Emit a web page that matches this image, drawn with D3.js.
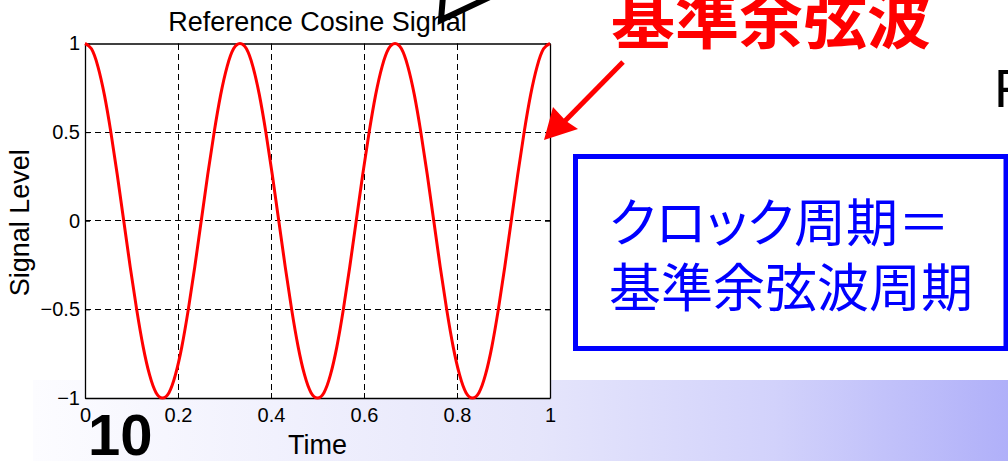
<!DOCTYPE html>
<html>
<head>
<meta charset="utf-8">
<script src="https://cdn.jsdelivr.net/npm/d3@7"></script>
<style>
  html, body { margin: 0; padding: 0; background: #ffffff; }
  svg { display: block; }
</style>
</head>
<body>
<svg id="chart" width="1008" height="461"></svg>
<script>
// ---- data ----
const times = [0, 0.0139, 0.0278, 0.0417, 0.0556, 0.0694, 0.0833, 0.0972, 0.1111, 0.125, 0.1389, 0.1528,
  0.1667, 0.1806, 0.1944, 0.2083, 0.2222, 0.2361, 0.25, 0.2639, 0.2778, 0.2917, 0.3056, 0.3194,
  0.3333, 0.3472, 0.3611, 0.375, 0.3889, 0.4028, 0.4167, 0.4306, 0.4444, 0.4583, 0.4722, 0.4861,
  0.5, 0.5139, 0.5278, 0.5417, 0.5556, 0.5694, 0.5833, 0.5972, 0.6111, 0.625, 0.6389, 0.6528,
  0.6667, 0.6806, 0.6944, 0.7083, 0.7222, 0.7361, 0.75, 0.7639, 0.7778, 0.7917, 0.8056, 0.8194,
  0.8333, 0.8472, 0.8611, 0.875, 0.8889, 0.9028, 0.9167, 0.9306, 0.9444, 0.9583, 0.9722, 0.9861, 1];
const signalLevel = [
  1, 0.97, 0.87, 0.71, 0.5, 0.26, 0, -0.26, -0.5, -0.71, -0.87, -0.97,
  -1, -0.97, -0.87, -0.71, -0.5, -0.26, 0, 0.26, 0.5, 0.71, 0.87, 0.97,
  1, 0.97, 0.87, 0.71, 0.5, 0.26, 0, -0.26, -0.5, -0.71, -0.87, -0.97,
  -1, -0.97, -0.87, -0.71, -0.5, -0.26, 0, 0.26, 0.5, 0.71, 0.87, 0.97,
  1, 0.97, 0.87, 0.71, 0.5, 0.26, 0, -0.26, -0.5, -0.71, -0.87, -0.97,
  -1, -0.97, -0.87, -0.71, -0.5, -0.26, 0, 0.26, 0.5, 0.71, 0.87, 0.97,
  1];
const xTicks = [0, 0.2, 0.4, 0.6, 0.8, 1];
const xTickLabels = ["0", "0.2", "0.4", "0.6", "0.8", "1"];
const yTicks = [-1, -0.5, 0, 0.5, 1];
const yTickLabels = ["\u22121", "\u22120.5", "0", "0.5", "1"];
const titleText = "Reference Cosine Signal";
const xLabelText = "Time";
const yLabelText = "Signal Level";
const calloutRed = "基準余弦波";
const boxLines = ["クロック周期＝", "基準余弦波周期"];
const pageNumber = "10";
const cutLetter = "F";

// ---- layout ----
const svg = d3.select("#chart");
const L = 85, R = 550, T = 43.5, B = 398;
const x = d3.scaleLinear().domain([0, 1]).range([L, R]);
const y = d3.scaleLinear().domain([-1, 1]).range([B, T]);
const latin = "'Liberation Sans', Arial, Helvetica, sans-serif";
const cjk = "'Noto Sans CJK JP', 'Noto Sans CJK SC', sans-serif";

svg.append("rect").attr("width", 1008).attr("height", 461).attr("fill", "#ffffff");

// slide footer gradient band
const defs = svg.append("defs");
const grad = defs.append("linearGradient").attr("id", "band")
  .attr("gradientUnits", "userSpaceOnUse").attr("x1", 33).attr("x2", 1008).attr("y1", 0).attr("y2", 0);
[[0, "#fcfcff"], [0.52, "#e5e5fb"], [0.76, "#d2d2fb"], [1, "#b0b0f9"]].forEach(([o, c]) =>
  grad.append("stop").attr("offset", o).attr("stop-color", c));
svg.append("rect").attr("x", 33).attr("y", 380).attr("width", 975).attr("height", 81).attr("fill", "url(#band)");

// axes background
svg.append("rect").attr("x", L).attr("y", T).attr("width", R - L).attr("height", B - T).attr("fill", "#ffffff");

// grid
const grid = svg.append("g").attr("stroke", "#000").attr("stroke-width", 1)
  .attr("stroke-dasharray", "6,4").attr("shape-rendering", "crispEdges");
grid.selectAll(".gx").data(xTicks.slice(1, -1)).join("line")
  .attr("x1", d => x(d)).attr("x2", d => x(d)).attr("y1", T).attr("y2", B);
grid.selectAll(".gy").data(yTicks.slice(1, -1)).join("line")
  .attr("y1", d => y(d)).attr("y2", d => y(d)).attr("x1", L).attr("x2", R);

// axes with inward ticks
const fmtX = d => xTickLabels[xTicks.indexOf(d)];
const fmtY = d => yTickLabels[yTicks.indexOf(d)];
const axB = svg.append("g").attr("transform", `translate(0,${B})`)
  .call(d3.axisBottom(x).tickValues(xTicks).tickFormat(fmtX).tickSizeInner(-5).tickSizeOuter(0).tickPadding(10));
const axT = svg.append("g").attr("transform", `translate(0,${T})`)
  .call(d3.axisTop(x).tickValues(xTicks).tickFormat("").tickSizeInner(-5).tickSizeOuter(0));
const axLft = svg.append("g").attr("transform", `translate(${L},0)`)
  .call(d3.axisLeft(y).tickValues(yTicks).tickFormat(fmtY).tickSizeInner(-5).tickSizeOuter(0).tickPadding(5));
const axRt = svg.append("g").attr("transform", `translate(${R},0)`)
  .call(d3.axisRight(y).tickValues(yTicks).tickFormat("").tickSizeInner(-5).tickSizeOuter(0));
[axB, axT, axLft, axRt].forEach(g => {
  g.select(".domain").attr("stroke", "#000").attr("stroke-width", 1.3);
  g.selectAll(".tick line").attr("stroke", "#000");
  g.selectAll("text").attr("font-family", latin).attr("font-size", 20).attr("fill", "#000");
});
axB.selectAll("text").attr("dy", "0.71em");

// curve
const pts = times.map((t, i) => [t, signalLevel[i]]);
svg.append("path").datum(pts)
  .attr("fill", "none").attr("stroke", "#ff0000").attr("stroke-width", 3).attr("stroke-linejoin", "round")
  .attr("d", d3.line().x(d => x(d[0])).y(d => y(d[1])).curve(d3.curveNatural));

// title and labels
svg.append("text").attr("x", (L + R) / 2).attr("y", 31).attr("text-anchor", "middle")
  .attr("font-family", latin).attr("font-size", 27).text(titleText);
svg.append("text").attr("x", (L + R) / 2).attr("y", 454).attr("text-anchor", "middle")
  .attr("font-family", latin).attr("font-size", 27).text(xLabelText);
svg.append("text").attr("transform", `translate(29,${(T + B) / 2 + 2}) rotate(-90)`).attr("text-anchor", "middle")
  .attr("font-family", latin).attr("font-size", 27).text(yLabelText);

// slide annotations
svg.append("path").attr("d", "M443,-4 L441,20 L492,-4").attr("fill", "none")
  .attr("stroke", "#000").attr("stroke-width", 6).attr("stroke-linejoin", "miter");

svg.append("text").attr("x", 611).attr("y", 43).attr("font-family", cjk).attr("font-weight", 700)
  .attr("font-size", 64).attr("fill", "#ff0000").text(calloutRed);

// red arrow
svg.append("line").attr("x1", 623).attr("y1", 62).attr("x2", 560).attr("y2", 126)
  .attr("stroke", "#ff0000").attr("stroke-width", 5);
svg.append("path").attr("d", "M544,140 L553,107 L566,121 L578,129 Z").attr("fill", "#ff0000");

svg.append("text").attr("x", 994).attr("y", 107).attr("font-family", latin).attr("font-size", 54)
  .attr("fill", "#000").text(cutLetter);

// blue box
svg.append("rect").attr("x", 575.5).attr("y", 156.5).attr("width", 430.5).attr("height", 192)
  .attr("fill", "#ffffff").attr("stroke", "#0000ff").attr("stroke-width", 5);
boxLines.forEach((s, i) => {
  svg.append("text").attr("x", 609).attr("y", 242 + i * 65).attr("font-family", cjk)
    .attr("font-size", 52).attr("fill", "#0000ff")
    .style("font-feature-settings", i === 0 ? "'palt'" : "normal").text(s);
});

svg.append("text").attr("x", 88).attr("y", 455).attr("font-family", latin).attr("font-weight", 700)
  .attr("font-size", 58).attr("fill", "#000").text(pageNumber);
</script>
</body>
</html>
